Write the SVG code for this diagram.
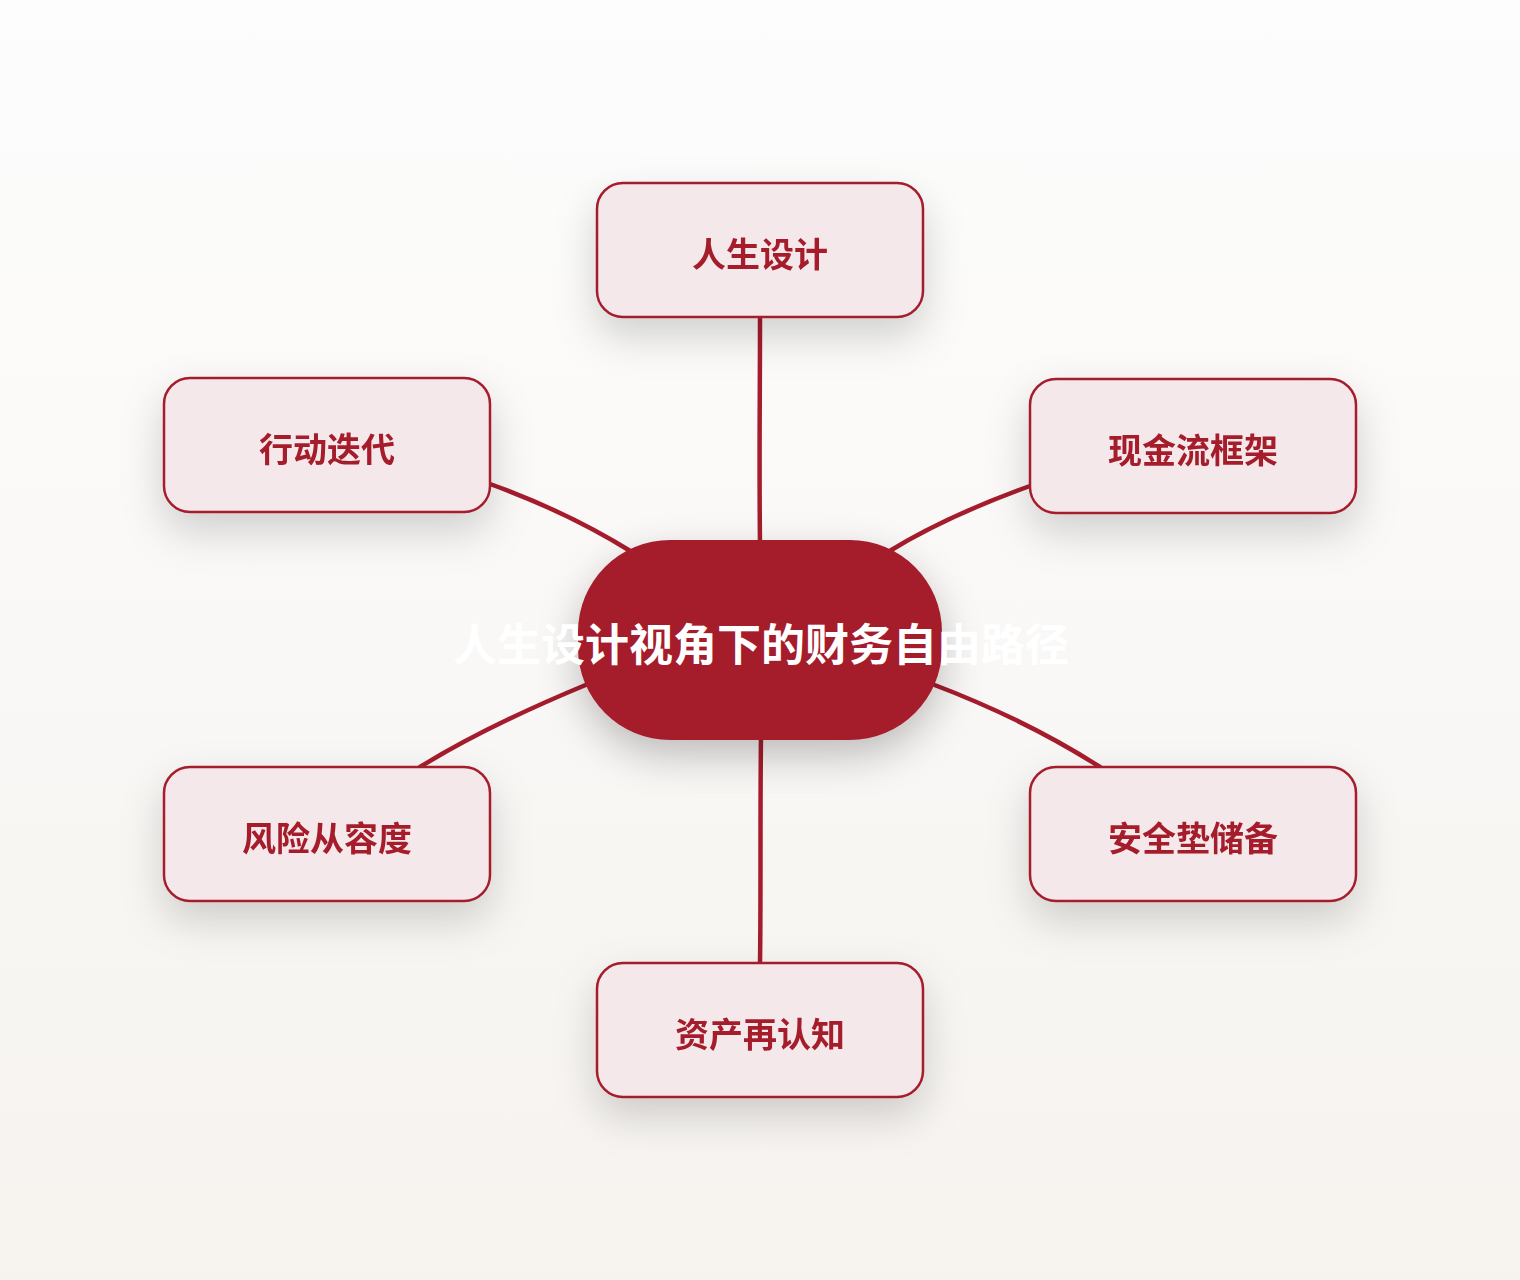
<svg xmlns="http://www.w3.org/2000/svg" width="1520" height="1280" viewBox="0 0 1520 1280">
<defs>
<linearGradient id="bg" x1="0" y1="0" x2="0" y2="1">
<stop offset="0" stop-color="#fdfdfd"/>
<stop offset="1" stop-color="#f6f3ef"/>
</linearGradient>
<filter id="sh" x="-40%" y="-40%" width="180%" height="200%">
<feDropShadow dx="0" dy="18" stdDeviation="20" flood-color="#000" flood-opacity="0.17"/>
</filter>
<filter id="shc" x="-40%" y="-40%" width="180%" height="200%">
<feDropShadow dx="0" dy="16" stdDeviation="20" flood-color="#000" flood-opacity="0.24"/>
</filter>
</defs>
<style>
.node rect{fill:#f5e8ea;stroke:#a51c2c;stroke-width:2.5}
.node text{fill:#a51c2c;font-family:"Noto Sans CJK SC","Noto Sans",sans-serif;font-weight:700;font-size:34px;text-anchor:middle;dominant-baseline:central}
.edge{fill:none;stroke:#a51c2c;stroke-width:4.5;stroke-linecap:round}
.ctext{fill:#ffffff;font-family:"Noto Sans CJK SC","Noto Sans",sans-serif;font-weight:700;font-size:44px;text-anchor:middle;dominant-baseline:central}
</style>
<rect x="0" y="0" width="1520" height="1280" fill="url(#bg)"/>
<g id="connectors">
<path class="edge" d="M760 318 C760 400 759 460 760 545"/>
<path class="edge" d="M490 484 C540 502 590 526 632 552"/>
<path class="edge" d="M1030 486 C980 504 930 526 888 552"/>
<path class="edge" d="M420 767 C470 736 530 708 588 684"/>
<path class="edge" d="M1100 767 C1050 735 990 706 932 684"/>
<path class="edge" d="M761 735 C760 820 761 900 760 963"/>
</g>
<g id="n1" class="node" filter="url(#sh)"><rect x="597" y="183" width="326" height="134" rx="26"/><text x="760" y="252">人生设计</text></g>
<g id="n2" class="node" filter="url(#sh)"><rect x="1030" y="379" width="326" height="134" rx="26"/><text x="1193" y="448">现金流框架</text></g>
<g id="n3" class="node" filter="url(#sh)"><rect x="1030" y="767" width="326" height="134" rx="26"/><text x="1193" y="836">安全垫储备</text></g>
<g id="n4" class="node" filter="url(#sh)"><rect x="597" y="963" width="326" height="134" rx="26"/><text x="760" y="1032">资产再认知</text></g>
<g id="n5" class="node" filter="url(#sh)"><rect x="164" y="767" width="326" height="134" rx="26"/><text x="327" y="836">风险从容度</text></g>
<g id="n6" class="node" filter="url(#sh)"><rect x="164" y="378" width="326" height="134" rx="26"/><text x="327" y="447">行动迭代</text></g>
<g id="center">
<rect x="578" y="540" width="364" height="200" rx="92" fill="#a51c2c" filter="url(#shc)"/>
<text class="ctext" x="761" y="642">人生设计视角下的财务自由路径</text>
</g>
</svg>
